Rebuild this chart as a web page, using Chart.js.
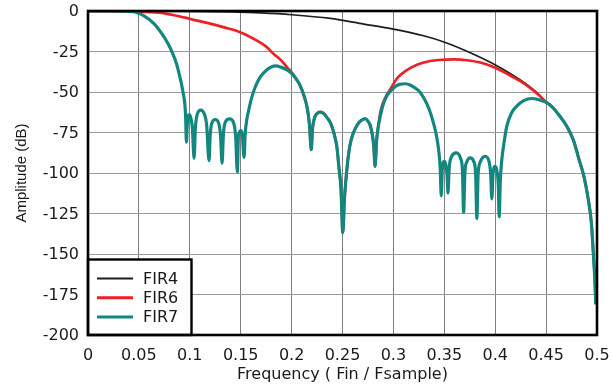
<!DOCTYPE html>
<html><head><meta charset="utf-8">
<script src="https://cdn.jsdelivr.net/npm/chart.js@4/dist/chart.umd.min.js"></script>
<style>html,body{margin:0;padding:0;background:#fff;overflow:hidden;}</style>
</head><body>
<canvas id="c" width="612" height="389"></canvas>
<script>
// ---- data ----
const seriesNames = ['FIR4', 'FIR6', 'FIR7'];
const seriesColors = ['#1c1c1c', '#ee2024', '#13877f'];

const xTickValues = [0, 0.05, 0.1, 0.15, 0.2, 0.25, 0.3, 0.35, 0.4, 0.45, 0.5];
const xTickLabels = ['0', '0.05', '0.1', '0.15', '0.2', '0.25', '0.3', '0.35', '0.4', '0.45', '0.5'];
const yTickValues = [-200, -175, -150, -125, -100, -75, -50, -25, 0];
const yTickLabels = ['-200', '-175', '-150', '-125', '-100', '-75', '-50', '-25', '0'];

const fir4Freq = [0, 0.05, 0.10, 0.14, 0.17, 0.20, 0.238, 0.271, 0.300, 0.3297, 0.351, 0.375, 0.402, 0.428, 0.440, 0.4507, 0.4556, 0.4630, 0.4703, 0.4770, 0.4824, 0.4875, 0.4915, 0.4945, 0.4964, 0.4978, 0.4988];
const fir4Amp  = [0, -0.05, -0.2, -0.6, -1.2, -2.3, -4.6, -8.1, -11.2, -15.3, -19.4, -25.6, -33.9, -44, -50, -56.6, -59, -64.5, -71.1, -80, -91.8, -103, -116.6, -131, -149.7, -165, -181];

const fir6Freq = [0, 0.04, 0.07, 0.085, 0.101, 0.118, 0.1337, 0.150, 0.1663, 0.175, 0.1827, 0.189, 0.1958, 0.2000, 0.2040, 0.2080, 0.2120, 0.2154, 0.2175, 0.2193,
  0.2205, 0.2225, 0.2255, 0.2285, 0.2320, 0.2350, 0.2382, 0.2415, 0.2445, 0.2464, 0.2485, 0.2503, 0.2520, 0.2546, 0.2570, 0.2595, 0.2630, 0.2660, 0.2695, 0.2725, 0.2755, 0.2775, 0.2795, 0.2807, 0.2820, 0.2835, 0.2850,
  0.2873, 0.2925, 0.2987, 0.3036, 0.312, 0.3232, 0.335, 0.351, 0.3608, 0.372, 0.3853, 0.396, 0.408, 0.418, 0.4278, 0.4375, 0.4445, 0.4507,
  0.4556, 0.4630, 0.4703, 0.4770, 0.4824, 0.4875, 0.4915, 0.4945, 0.4964, 0.4978, 0.4988];
const fir6Amp  = [0, -0.3, -1.0, -2.6, -5, -7.5, -10.1, -13.2, -18.4, -22, -26.7, -30, -34.9, -37.9, -41.5, -45.5, -52, -60, -70, -85.6,
  -73, -66, -63, -62.4, -63.5, -66, -69, -75.2, -84, -95.9, -110, -136.9, -115, -95.9, -84, -77.3, -72, -69, -67, -66.5, -68.5, -71.1, -77, -83.5, -95.9, -80, -72,
  -62, -53, -46.5, -41.5, -37, -33.2, -31, -30, -29.8, -30.4, -31.8, -34, -37.5, -41, -44.5, -49, -52.8, -56.6,
  -59, -64.5, -71.1, -80, -91.8, -103, -116.6, -131, -149.7, -165, -181];

const fir7Freq = [0, 0.02, 0.044, 0.055, 0.065, 0.072, 0.078, 0.083, 0.087, 0.090, 0.093, 0.0958, 0.0967,
  0.0975, 0.0985, 0.0995, 0.1008, 0.1025, 0.1042,
  0.1055, 0.1072, 0.1108, 0.1145, 0.1165, 0.1189,
  0.1200, 0.1215, 0.1250, 0.1285, 0.1302, 0.1317,
  0.1330, 0.1350, 0.1390, 0.1430, 0.1450, 0.1467,
  0.1478, 0.1500, 0.1515, 0.1533,
  0.1545, 0.1560, 0.1580, 0.1610, 0.1647, 0.1690, 0.1729, 0.1780, 0.1843, 0.1900, 0.1958, 0.2000, 0.2040, 0.2080, 0.2120, 0.2154, 0.2175, 0.2193,
  0.2205, 0.2225, 0.2255, 0.2285, 0.2320, 0.2350, 0.2382, 0.2415, 0.2445, 0.2464, 0.2485, 0.2503, 0.2520, 0.2546, 0.2570, 0.2595, 0.2630, 0.2660, 0.2695, 0.2725, 0.2755, 0.2775, 0.2795, 0.2807, 0.2820,
  0.2835, 0.2850, 0.2873, 0.2900, 0.2935, 0.2971, 0.3020, 0.3060, 0.3118, 0.3170, 0.3220, 0.3265, 0.3310, 0.3350, 0.3379, 0.3420, 0.3444, 0.3460, 0.3470,
  0.3480, 0.3500, 0.3515, 0.3528, 0.3536,
  0.3548, 0.3570, 0.3618, 0.3660, 0.3678, 0.3690,
  0.3702, 0.3722, 0.3755, 0.3790, 0.3808, 0.3820,
  0.3832, 0.3855, 0.3902, 0.3940, 0.3955, 0.3967,
  0.3978, 0.4000, 0.4018, 0.4030, 0.4039,
  0.4050, 0.4065, 0.4090, 0.4114, 0.4160, 0.4212, 0.4280, 0.4360, 0.4430, 0.4507,
  0.4556, 0.4630, 0.4703, 0.4770, 0.4824, 0.4875, 0.4915, 0.4945, 0.4964, 0.4978, 0.4988];
const fir7Amp  = [0, 0, -0.4, -3, -7.9, -13.5, -19.5, -26, -32.7, -40, -49, -63.7, -81,
  -70, -65, -63.9, -65.5, -72, -90.8,
  -72, -64, -61.2, -64, -70, -92.4,
  -77, -69.5, -67, -69.5, -77, -93.9,
  -76, -68.5, -66.6, -69, -77, -99.4,
  -77, -73.8, -76, -90.3,
  -75, -67, -60.8, -53, -46.3, -41, -38, -35.2, -33.9, -34.8, -36.5, -38.5, -41.5, -45.5, -52, -60, -70, -85.6,
  -73, -66, -63, -62.4, -63.5, -66, -69, -75.2, -84, -95.9, -110, -136.9, -115, -95.9, -84, -77.3, -72, -69, -67, -66.5, -68.5, -71.1, -77, -83.5, -95.9,
  -80, -72, -64.5, -57.5, -52.5, -49.4, -46.5, -45.3, -44.9, -45.8, -47.8, -50.4, -55, -60.5, -66, -76, -85.6, -97, -114.1,
  -98, -92.8, -95, -102, -112.4,
  -97, -90, -87.6, -91, -98, -124.2,
  -100, -93, -90.7, -93, -101, -128,
  -101, -93, -89.7, -93, -100, -116,
  -101, -95.9, -99, -107, -127,
  -105, -91.8, -80, -71.1, -63, -58.7, -55.3, -54, -54.8, -56.6,
  -59, -64.5, -71.1, -80, -91.8, -103, -116.6, -131, -149.7, -165, -181];

// ---- build ----
const toPoints = (xs, ys) => xs.map((x, i) => ({x: x, y: ys[i]}));
const seriesData = [toPoints(fir4Freq, fir4Amp), toPoints(fir6Freq, fir6Amp), toPoints(fir7Freq, fir7Amp)];
const lineWidths = [1.7, 2.7, 3.2];
const legendLineWidths = [2, 3, 3];

const datasets = seriesNames.map((name, i) => ({
  label: name,
  data: seriesData[i],
  borderColor: seriesColors[i],
  backgroundColor: seriesColors[i],
  borderWidth: lineWidths[i],
  pointRadius: 0,
  cubicInterpolationMode: 'monotone',
  fill: false,
  borderJoinStyle: 'round',
  borderCapStyle: 'butt',
  order: seriesNames.length - i
}));

const frameAndLegend = {
  id: 'frameAndLegend',
  afterDatasetsDraw(chart) {
    const c = chart.ctx, a = chart.chartArea;
    c.save();
    // legend box
    const bx = a.left, by = 259.5, bw = 103.5, bh = a.bottom - by;
    c.fillStyle = '#ffffff';
    c.fillRect(bx, by, bw, bh);
    c.strokeStyle = '#000';
    c.lineWidth = 2.4;
    c.strokeRect(bx, by, bw, bh);
    c.font = '16px "DejaVu Sans"';
    c.textBaseline = 'middle';
    c.textAlign = 'left';
    chart.data.datasets.forEach((ds, i) => {
      const y = 278.5 + i * 19.2;
      c.strokeStyle = ds.borderColor;
      c.lineWidth = legendLineWidths[i];
      c.beginPath();
      c.moveTo(97, y);
      c.lineTo(133, y);
      c.stroke();
      c.fillStyle = '#1a1a1a';
      c.fillText(ds.label, 143, y + 1);
    });
    // plot frame
    c.strokeStyle = '#000';
    c.lineWidth = 2.6;
    c.strokeRect(a.left, a.top, a.right - a.left, a.bottom - a.top);
    c.restore();
  }
};

new Chart(document.getElementById('c'), {
  type: 'line',
  data: {datasets: datasets},
  plugins: [frameAndLegend],
  options: {
    responsive: false,
    animation: false,
    devicePixelRatio: 1,
    layout: {padding: {left: 0, top: 11, right: 15, bottom: 0}},
    plugins: {legend: {display: false}, tooltip: {enabled: false}},
    scales: {
      x: {
        type: 'linear', min: 0, max: 0.5,
        afterBuildTicks: s => { s.ticks = xTickValues.map(v => ({value: v})); },
        afterFit: s => { s.height = 54; s.paddingLeft = 0; s.paddingRight = 0; },
        grid: {color: '#7d7d7d', lineWidth: 1, drawTicks: false},
        border: {display: false},
        ticks: {autoSkip: false, maxRotation: 0, minRotation: 0, padding: 11, color: '#1a1a1a',
          font: {family: '"DejaVu Sans"', size: 16},
          callback: (v, i) => xTickLabels[i]},
        title: {display: true, text: 'Frequency ( Fin / Fsample)', color: '#1a1a1a',
          font: {family: '"DejaVu Sans"', size: 16}, padding: {top: 0, bottom: 5}}
      },
      y: {
        type: 'linear', min: -200, max: 0,
        afterBuildTicks: s => { s.ticks = yTickValues.map(v => ({value: v})); },
        afterFit: s => { s.width = 88; s.paddingTop = 0; s.paddingBottom = 0; },
        grid: {color: '#9a9a9a', lineWidth: 1, drawTicks: false},
        border: {display: false},
        ticks: {autoSkip: false, padding: 9, color: '#1a1a1a', labelOffset: 1,
          font: {family: '"DejaVu Sans"', size: 16},
          callback: (v, i) => yTickLabels[i]},
        title: {display: true, text: 'Amplitude (dB)', color: '#1a1a1a',
          font: {family: '"Liberation Sans", Arial, sans-serif', size: 15}, padding: {top: 13, bottom: 0}}
      }
    }
  }
});
</script>
</body></html>
